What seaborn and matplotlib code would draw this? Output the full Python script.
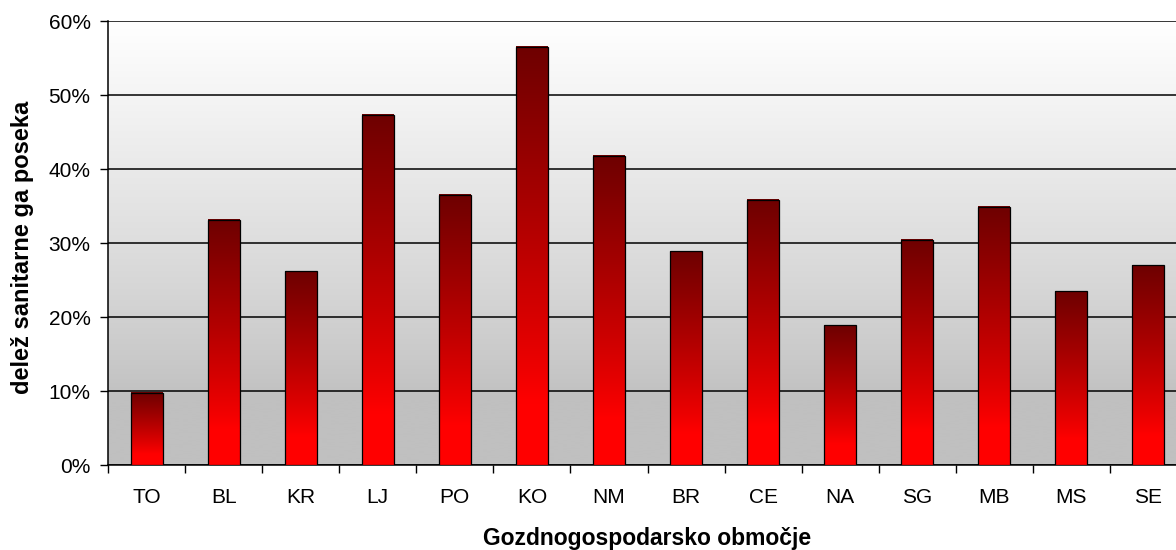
import numpy as np
import matplotlib
matplotlib.use("Agg")
import matplotlib.pyplot as plt
import seaborn as sns
from matplotlib.ticker import FuncFormatter, FixedLocator

# gozdnogospodarska območja in delež sanitarne sečnje
areas = ["TO", "BL", "KR", "LJ", "PO", "KO", "NM", "BR", "CE", "NA", "SG", "MB", "MS", "SE"]
share = [0.098, 0.332, 0.262, 0.473, 0.365, 0.565, 0.418, 0.289, 0.359, 0.189, 0.305, 0.349, 0.235, 0.270]
y_ticks = [0.0, 0.1, 0.2, 0.3, 0.4, 0.5, 0.6]

x_title = "Gozdnogospodarsko območje"
y_title = "delež sanitarne ga poseka"

sns.set_theme(style="white")
plt.rcParams["font.family"] = ["Liberation Sans", "DejaVu Sans"]

W, H = 1176, 550
fig = plt.figure(figsize=(W / 100, H / 100), dpi=100)
ax = fig.add_axes([108 / W, 1 - 465.3 / H, (1187 - 108) / W, (465.3 - 21.3) / H])

sns.barplot(x=areas, y=share, color="red", saturation=1, width=0.415,
            edgecolor="black", linewidth=0.9, ax=ax, zorder=3)

ymax = y_ticks[-1]
xlim = (-0.5, len(areas) - 0.5)

# background: white at top fading to gray near the bottom
t = np.linspace(0, 1, 256)
g = np.clip((t - 0.15) / 0.85, 0, 1) ** 0.85
bg_val = (192 + 63 * g) / 255
bg = np.dstack([bg_val, bg_val, bg_val]).reshape(256, 1, 3)
ax.imshow(bg, extent=[xlim[0], xlim[1], 0, ymax], origin="lower",
          aspect="auto", zorder=0, interpolation="bicubic")

# gradient fill on every bar (bright red at bottom, dark red at top)
f = np.clip((t - 0.15) / 0.85, 0, 1) ** 0.9
red = (255 - 145 * f) / 255
grad = np.dstack([red, np.zeros_like(red), np.zeros_like(red)]).reshape(256, 1, 3)
for p in ax.patches:
    x0, w, h = p.get_x(), p.get_width(), p.get_height()
    ax.imshow(grad, extent=[x0, x0 + w, 0, h], origin="lower",
              aspect="auto", zorder=3.5, interpolation="bicubic")
    p.set_facecolor("none")
    p.set_zorder(4)

ax.set_xlim(*xlim)
ax.set_ylim(0, ymax)

ax.set_yticks(y_ticks)
ax.yaxis.set_major_formatter(FuncFormatter(lambda v, _: f"{v * 100:.0f}%"))
ax.yaxis.grid(True, color="black", linewidth=1.1)
ax.set_axisbelow(True)

ax.xaxis.set_minor_locator(FixedLocator(np.arange(xlim[0], xlim[1] + 0.5, 1)))
ax.tick_params(axis="x", which="major", length=0, pad=16, labelsize=15, colors="black")
ax.tick_params(axis="x", which="minor", length=6, width=1, direction="out", color="black", bottom=True)
ax.tick_params(axis="y", which="major", length=6, width=1, direction="out", left=True,
               pad=6.5, labelsize=15, colors="black")

for side in ["top", "right"]:
    ax.spines[side].set_visible(False)
for side in ["left", "bottom"]:
    ax.spines[side].set_color("black")
    ax.spines[side].set_linewidth(1.1)

ax.set_xlabel(x_title, fontsize=16.5, fontweight="bold", color="black")
ax.set_ylabel(y_title, fontsize=17, fontweight="bold", color="black")
ax.xaxis.set_label_coords(0.5, -(527 - 465.3) / 444)
ax.yaxis.set_label_coords(-(108 - 34) / 1079, 0.49)

fig.savefig("out.png", dpi=100)
